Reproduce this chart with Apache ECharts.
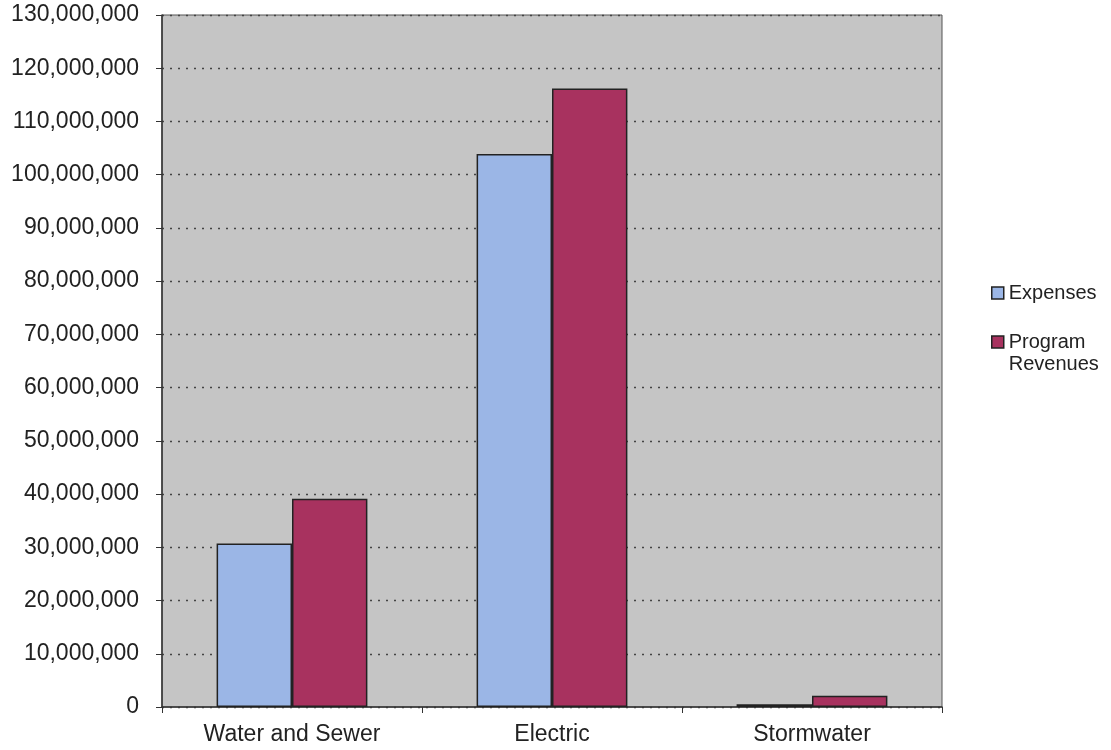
<!DOCTYPE html>
<html><head><meta charset="utf-8">
<script src="https://cdn.jsdelivr.net/npm/echarts@6/dist/echarts.min.js"></script>
<style>html,body{margin:0;padding:0;background:#fff}#c{width:1111px;height:750px}</style>
</head><body><div id="c"></div>
<script>
const categories = ["Water and Sewer", "Electric", "Stormwater"];
const expenses = [30700000, 103900000, 500000];
const programRevenues = [39100000, 116200000, 2100000];
const seriesNames = ["Expenses", "Program\nRevenues"];

const chart = echarts.init(document.getElementById('c'));
const font = 'Liberation Sans, Arial, sans-serif';
chart.setOption({
  animation: false,
  textStyle: {fontFamily: font},
  grid: {left: 162, right: 169, top: 15, bottom: 43, show: true, backgroundColor: '#c5c5c5', borderColor: '#555', borderWidth: 1},
  legend: {
    orient: 'vertical', left: 991, top: 282, padding: 0, itemWidth: 12, itemHeight: 12, itemGap: 5,
    icon: 'rect',
    formatter: name => name === seriesNames[1] ? ' \n' + name : name,
    textStyle: {fontSize: 20, lineHeight: 22, color: '#222', fontFamily: font},
    data: [
      {name: seriesNames[0], itemStyle: {borderColor: '#222', borderWidth: 1.5}},
      {name: seriesNames[1], itemStyle: {borderColor: '#222', borderWidth: 1.5}}
    ]
  },
  xAxis: {
    type: 'category', data: categories,
    axisLine: {lineStyle: {color: '#333', width: 1.5}},
    axisTick: {show: true, length: 6, lineStyle: {color: '#333'}},
    axisLabel: {fontSize: 23, color: '#222', margin: 16, fontFamily: font}
  },
  yAxis: {
    type: 'value', min: 0, max: 130000000, interval: 10000000,
    axisLine: {show: true, lineStyle: {color: '#333', width: 1.5}},
    axisTick: {show: true, length: 6, lineStyle: {color: '#333'}},
    axisLabel: {fontSize: 23, color: '#222', margin: 23, fontFamily: font,
      formatter: v => v.toLocaleString('en-US')},
    splitLine: {show: true, lineStyle: {color: '#444', type: [2, 6], width: 1.3}}
  },
  series: [
    {name: seriesNames[0], type: 'bar', data: expenses, barGap: '0%', barCategoryGap: '42%',
     itemStyle: {color: '#9bb6e6', borderColor: '#222', borderWidth: 1.5}},
    {name: seriesNames[1], type: 'bar', data: programRevenues,
     itemStyle: {color: '#a8325f', borderColor: '#222', borderWidth: 1.5}}
  ]
});
</script></body></html>
